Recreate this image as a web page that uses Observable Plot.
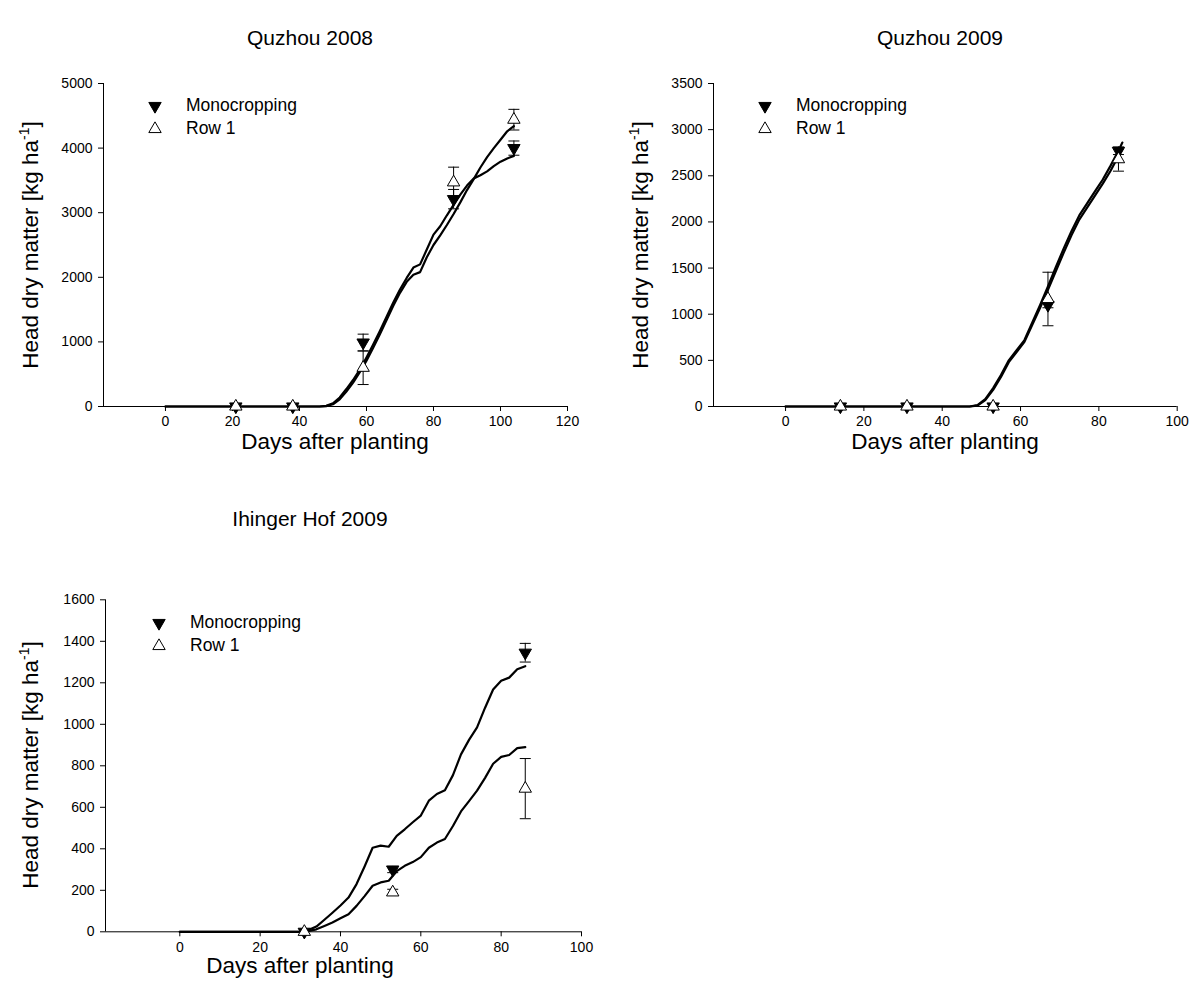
<!DOCTYPE html>
<html>
<head>
<meta charset="utf-8">
<script src="https://cdn.jsdelivr.net/npm/d3@7"></script>
<script src="https://cdn.jsdelivr.net/npm/@observablehq/plot@0.6"></script>
<style>
  html, body { margin: 0; padding: 0; background: #fff; }
  #root { position: relative; width: 1200px; height: 1006px; font-family: "Liberation Sans", Arial, sans-serif; color: #000; }
  .panel { position: absolute; }
  .txt { position: absolute; white-space: nowrap; line-height: 1; }
  .title { font-size: 21px; transform: translate(-50%, -50%); }
  .xlab { font-size: 22.5px; transform: translate(-50%, -50%); }
  .ylab { font-size: 22.5px; transform: translate(-50%, -50%) rotate(-90deg); }
  .ylab sup { font-size: 14px; vertical-align: 9px; }
</style>
</head>
<body>
<div id="root"></div>
<script>
// ---------------- DATA ----------------
// Quzhou 2008
const obsDays1 = [21, 38, 59, 86, 104];
const mono1 = [0, 0, 990, 3210, 4000];
const monoErr1 = [0, 0, 130, 150, 110];
const row1 = [0, 0, 600, 3470, 4440];
const rowErr1 = [0, 0, 260, 235, 160];
const simDays1 = [0, 46, 48, 50, 52, 54, 56, 58, 60, 62, 64, 66, 68, 70, 72, 74, 76, 78, 80, 82, 84, 86, 88, 90, 92, 94, 96, 98, 100, 102, 104];
const simMono1 = [0, 0, 10, 50, 140, 270, 410, 570, 760, 960, 1170, 1390, 1610, 1810, 1990, 2150, 2200, 2430, 2660, 2790, 2960, 3120, 3280, 3420, 3530, 3580, 3640, 3720, 3790, 3840, 3880];
const simRow1 = [0, 0, 5, 35, 110, 230, 370, 530, 710, 910, 1120, 1340, 1560, 1760, 1930, 2040, 2080, 2310, 2500, 2650, 2810, 2980, 3160, 3350, 3520, 3700, 3860, 4000, 4130, 4260, 4340];

// Quzhou 2009
const obsDays2 = [14, 31, 53, 67, 85];
const mono2 = [0, 0, 0, 1100, 2770];
const monoErr2 = [0, 0, 0, 30, 40];
const row2 = [0, 0, 0, 1165, 2680];
const rowErr2 = [0, 0, 0, 290, 130];
const simDays2 = [0, 47, 49, 51, 53, 55, 57, 59, 61, 63, 65, 67, 69, 71, 73, 75, 77, 79, 81, 83, 85, 86];
const simMono2 = [0, 0, 15, 80, 200, 340, 500, 610, 720, 910, 1100, 1300, 1510, 1710, 1900, 2070, 2200, 2330, 2460, 2610, 2770, 2860];
const simRow2 = [0, 0, 10, 70, 180, 320, 480, 590, 700, 885, 1070, 1265, 1465, 1665, 1855, 2025, 2155, 2285, 2415, 2555, 2715, 2790];

// Ihinger Hof 2009
const obsDays3 = [31, 53, 86];
const mono3 = [0, 300, 1345];
const monoErr3 = [0, 15, 45];
const row3 = [0, 190, 690];
const rowErr3 = [0, 15, 145];
const simDays3 = [0, 31, 34, 36, 38, 40, 42, 44, 46, 48, 50, 52, 54, 56, 58, 60, 62, 64, 66, 68, 70, 72, 74, 76, 78, 80, 82, 84, 86];
const simMono3 = [0, 0, 25, 58, 92, 127, 165, 230, 315, 405, 415, 410, 462, 494, 528, 560, 632, 664, 682, 755, 855, 925, 985, 1080, 1168, 1210, 1225, 1265, 1280];
const simRow3 = [0, 0, 12, 28, 45, 65, 85, 125, 172, 222, 238, 246, 292, 318, 336, 360, 405, 430, 447, 510, 580, 630, 680, 742, 810, 843, 852, 885, 890];

// Axis ticks
const xTicks1 = [0, 20, 40, 60, 80, 100, 120];
const yTicks1 = [0, 1000, 2000, 3000, 4000, 5000];
const xTicks2 = [0, 20, 40, 60, 80, 100];
const yTicks2 = [0, 500, 1000, 1500, 2000, 2500, 3000, 3500];
const xTicks3 = [0, 20, 40, 60, 80, 100];
const yTicks3 = [0, 200, 400, 600, 800, 1000, 1200, 1400, 1600];

const titles = ["Quzhou 2008", "Quzhou 2009", "Ihinger Hof 2009"];
const seriesNames = ["Monocropping", "Row 1"];
const xLabel = "Days after planting";
const yLabelMain = "Head dry matter [kg ha";
const yLabelSup = "-1";
const yLabelEnd = "]";

// ---------------- HELPERS ----------------
const capSymbol = {
  draw(context, size) {
    const w = 5.5;
    context.moveTo(-w, 0);
    context.lineTo(w, 0);
  }
};

function makePanel(cfg) {
  const sims = [];
  cfg.simDays.forEach((d, i) => sims.push({series: "mono", day: d, v: cfg.simMono[i]}));
  cfg.simDays.forEach((d, i) => sims.push({series: "row", day: d, v: cfg.simRow[i]}));
  const obsM = cfg.obsDays.map((d, i) => ({day: d, v: cfg.mono[i], lo: cfg.mono[i] - cfg.monoErr[i], hi: cfg.mono[i] + cfg.monoErr[i], e: cfg.monoErr[i]}));
  const obsR = cfg.obsDays.map((d, i) => ({day: d, v: cfg.row[i], lo: cfg.row[i] - cfg.rowErr[i], hi: cfg.row[i] + cfg.rowErr[i], e: cfg.rowErr[i]}));
  const errs = [...obsM, ...obsR].filter(d => d.e > 0);
  const caps = errs.flatMap(d => [{day: d.day, v: d.lo}, {day: d.day, v: d.hi}]);

  return Plot.plot({
    width: cfg.width,
    height: cfg.height,
    marginLeft: cfg.ml,
    marginRight: cfg.mr,
    marginTop: cfg.mt,
    marginBottom: cfg.mb,
    style: {fontFamily: "Liberation Sans, Arial, sans-serif", fontSize: "14px", color: "#000", background: "transparent", overflow: "visible"},
    x: {domain: cfg.xDomain},
    y: {domain: cfg.yDomain},
    marks: [
      Plot.ruleY([0], {stroke: "#000", strokeWidth: 1}),
      Plot.ruleX([cfg.xDomain[0]], {stroke: "#000", strokeWidth: 1}),
      Plot.axisX({ticks: cfg.xTicks, tickSize: 5, tickPadding: 5, label: null, tickFormat: d => String(d), fontSize: 14}),
      Plot.axisY({ticks: cfg.yTicks, tickSize: 5, tickPadding: 6, label: null, tickFormat: d => String(d), fontSize: 14}),
      Plot.line(sims, {x: "day", y: "v", z: "series", stroke: "#000", strokeWidth: 2.2, curve: "linear"}),
      Plot.ruleX(errs, {x: "day", y1: "lo", y2: "hi", stroke: "#000", strokeWidth: 1}),
      Plot.dot(caps, {x: "day", y: "v", symbol: capSymbol, r: 3, stroke: "#000", strokeWidth: 1, fill: "none"}),
      Plot.dot(obsM, {x: "day", y: "v", symbol: "triangle", rotate: 180, r: 4.6, fill: "#000", stroke: "#000", strokeWidth: 1}),
      Plot.dot(obsR, {x: "day", y: "v", symbol: "triangle", r: 4.6, fill: "#fff", stroke: "#000", strokeWidth: 1})
    ]
  });
}

const root = document.getElementById("root");

function place(el, left, top) {
  const d = document.createElement("div");
  d.className = "panel";
  d.style.left = left + "px";
  d.style.top = top + "px";
  d.appendChild(el);
  root.appendChild(d);
}

function addText(cls, text, x, y) {
  const d = document.createElement("div");
  d.className = "txt " + cls;
  d.style.left = x + "px";
  d.style.top = y + "px";
  d.textContent = text;
  root.appendChild(d);
}

function addYLabel(x, y) {
  const d = document.createElement("div");
  d.className = "txt ylab";
  d.style.left = x + "px";
  d.style.top = y + "px";
  d.appendChild(document.createTextNode(yLabelMain));
  const s = document.createElement("sup");
  s.textContent = yLabelSup;
  d.appendChild(s);
  d.appendChild(document.createTextNode(yLabelEnd));
  root.appendChild(d);
}

function triSvg(down) {
  const ns = "http://www.w3.org/2000/svg";
  const svg = document.createElementNS(ns, "svg");
  svg.setAttribute("width", 14);
  svg.setAttribute("height", 14);
  svg.setAttribute("style", "position:absolute;left:-7px;top:-7px;overflow:visible");
  const p = document.createElementNS(ns, "path");
  p.setAttribute("d", d3.symbol(d3.symbolTriangle, Math.PI * 4.6 * 4.6)());
  p.setAttribute("transform", "translate(7,7)" + (down ? " rotate(180)" : ""));
  p.setAttribute("fill", down ? "#000" : "#fff");
  p.setAttribute("stroke", "#000");
  p.setAttribute("stroke-width", 1);
  svg.appendChild(p);
  return svg;
}

function addLegend(x, y) {
  const rows = [[seriesNames[0], true, 0], [seriesNames[1], false, 23]];
  rows.forEach(([name, down, dy]) => {
    const wrap = document.createElement("div");
    wrap.style.position = "absolute";
    wrap.style.left = x + "px";
    wrap.style.top = (y + dy) + "px";
    wrap.appendChild(triSvg(down));
    const s = document.createElement("div");
    s.className = "txt";
    s.style.fontSize = "17.5px";
    s.style.left = "31px";
    s.style.top = "0px";
    s.style.transform = "translateY(-50%)";
    s.textContent = name;
    wrap.appendChild(s);
    root.appendChild(wrap);
  });
}

// Panel 1: Quzhou 2008
place(makePanel({
  width: 600, height: 470, ml: 103, mr: 33, mt: 83, mb: 64,
  xDomain: [-18.5, 120], yDomain: [0, 5000], xTicks: xTicks1, yTicks: yTicks1,
  obsDays: obsDays1, mono: mono1, monoErr: monoErr1, row: row1, rowErr: rowErr1,
  simDays: simDays1, simMono: simMono1, simRow: simRow1
}), 0, 0);

// Panel 2: Quzhou 2009
place(makePanel({
  width: 600, height: 470, ml: 113, mr: 23.3, mt: 83, mb: 64,
  xDomain: [-18.4, 100], yDomain: [0, 3500], xTicks: xTicks2, yTicks: yTicks2,
  obsDays: obsDays2, mono: mono2, monoErr: monoErr2, row: row2, rowErr: rowErr2,
  simDays: simDays2, simMono: simMono2, simRow: simRow2
}), 600, 0);

// Panel 3: Ihinger Hof 2009
place(makePanel({
  width: 620, height: 480, ml: 105, mr: 39, mt: 99.3, mb: 48.7,
  xDomain: [-18.5, 100], yDomain: [0, 1600], xTicks: xTicks3, yTicks: yTicks3,
  obsDays: obsDays3, mono: mono3, monoErr: monoErr3, row: row3, rowErr: rowErr3,
  simDays: simDays3, simMono: simMono3, simRow: simRow3
}), 0, 500);

// Titles
addText("title", titles[0], 310, 37);
addText("title", titles[1], 940, 37);
addText("title", titles[2], 310, 518);

// Axis labels
addText("xlab", xLabel, 335, 442);
addText("xlab", xLabel, 945, 442);
addText("xlab", xLabel, 300, 966);
addYLabel(30, 245);
addYLabel(640, 245);
addYLabel(30, 765);

// Legends
addLegend(155, 106);
addLegend(765, 106);
addLegend(159, 623);
</script>
</body>
</html>
